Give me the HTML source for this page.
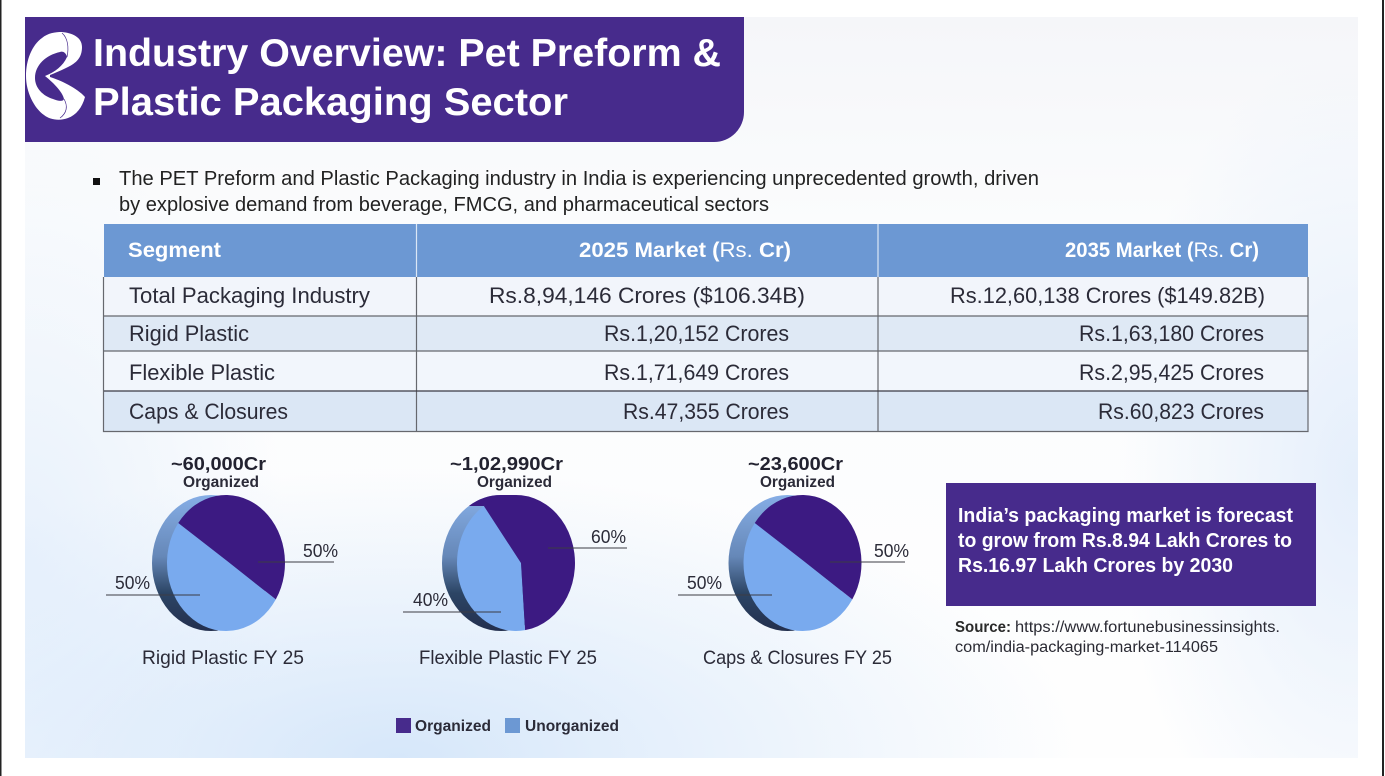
<!DOCTYPE html>
<html lang="en">
<head>
<meta charset="utf-8">
<title>Industry Overview: Pet Preform &amp; Plastic Packaging Sector</title>
<style>
html,body{margin:0;padding:0;background:#fff;width:1385px;height:776px;overflow:hidden}
#panel{position:absolute;left:25px;top:17px;width:1333px;height:741px;
background:
radial-gradient(ellipse 240px 430px at 100% 62%,rgba(228,238,251,.95),rgba(228,238,251,0) 100%),
radial-gradient(ellipse 680px 290px at 28% 100%,rgba(214,231,250,1),rgba(214,231,250,0) 100%),
radial-gradient(ellipse 260px 420px at 0% 72%,rgba(232,241,252,1),rgba(232,241,252,0) 100%),
linear-gradient(180deg,#f5f6f9 0%,#fbfcfd 28%,#fefefe 100%)}
svg{position:absolute;left:0;top:0;font-family:"Liberation Sans",sans-serif}
.b{font-weight:700}
</style>
</head>
<body>
<div id="panel"></div>
<svg id="slide" width="1385" height="776" viewBox="0 0 1385 776" xmlns="http://www.w3.org/2000/svg">
  <defs>
    <linearGradient id="sideGrad" x1="0" y1="0" x2="0" y2="1">
      <stop offset="0" stop-color="#86aee6"/>
      <stop offset="0.45" stop-color="#6688b8"/>
      <stop offset="0.72" stop-color="#2c4565"/>
      <stop offset="1" stop-color="#232f4e"/>
    </linearGradient>
  </defs>
  <rect x="0" y="0" width="1.5" height="776" fill="#222"/>
  <rect x="1382" y="0" width="2" height="776" fill="#222"/>

  <path d="M25,17H744V112A30,30 0 0 1 714,142H25Z" fill="#472b8c"/>
  <g>
    <path fill="#fff" fill-rule="evenodd" d="M62,32C72,33 82,37 82,47C82,58 76,63 68,67C62,70 55,73 50,75L50,77C60,80 77,88 85,97C82,108 76,115 68,118C60,121 50,120 44,115C34,108 26,92 26,76C26,60 32,45 42,38C48,33 55,32 62,32ZM45,76C55,72 63,66 67,57C66,52 62,51 60,52C46,55 35,65 35,78C35,88 43,96 53,99C58,101 63,102 64,99C63,93 55,84 45,76Z"/>
    <path fill="none" stroke="#472b8c" stroke-width="0.7" d="M62,33C68,38 69,48 67,57M64,99C68,106 67,113 60,118"/>
  </g>
  <text x="93" y="66" font-size="39" font-weight="700" fill="#fff" textLength="628" lengthAdjust="spacingAndGlyphs">Industry Overview: Pet Preform &amp;</text>
  <text x="93" y="115" font-size="39" font-weight="700" fill="#fff" textLength="475" lengthAdjust="spacingAndGlyphs">Plastic Packaging Sector</text>

  <rect x="93" y="178" width="7" height="7" fill="#111"/>
  <text x="119" y="185" font-size="20" fill="#222" textLength="920" lengthAdjust="spacingAndGlyphs">The PET Preform and Plastic Packaging industry in India is experiencing unprecedented growth, driven</text>
  <text x="119" y="211" font-size="20" fill="#222" textLength="650" lengthAdjust="spacingAndGlyphs">by explosive demand from beverage, FMCG, and pharmaceutical sectors</text>

  <g>
    <rect x="104" y="224" width="1204" height="53" fill="#6c98d3"/>
    <rect x="104" y="277" width="1204" height="39" fill="#f2f5fb"/>
    <rect x="104" y="316" width="1204" height="35" fill="#dfe9f5"/>
    <rect x="104" y="351" width="1204" height="40" fill="#f2f6fc"/>
    <rect x="104" y="391" width="1204" height="40" fill="#dbe7f5"/>
    <g stroke="#66686e" stroke-width="1.2" fill="none">
      <path d="M103.5,277V431.5H1308V277"/>
      <path d="M416.5,277V431M878,277V431"/>
      <path d="M104,316H1308M104,351H1308"/>
      <path d="M104,391H1308" stroke="#3a3a44"/>
    </g>
    <path d="M416.5,224V277M878,224V277" stroke="#dbe7f6" stroke-width="1.2"/>
    <text x="128" y="257" font-size="21" class="b" fill="#fff" textLength="93" lengthAdjust="spacingAndGlyphs">Segment</text>
    <text x="579" y="257" font-size="21" class="b" fill="#fff" textLength="212" lengthAdjust="spacingAndGlyphs">2025 Market (<tspan font-weight="400">Rs.</tspan> Cr)</text>
    <text x="1065" y="257" font-size="21" class="b" fill="#fff" textLength="194" lengthAdjust="spacingAndGlyphs">2035 Market (<tspan font-weight="400">Rs.</tspan> Cr)</text>

    <g font-size="22" fill="#2b2b38">
      <text x="129" y="303" textLength="241" lengthAdjust="spacingAndGlyphs">Total Packaging Industry</text>
      <text x="489" y="303" textLength="316" lengthAdjust="spacingAndGlyphs">Rs.8,94,146 Crores ($106.34B)</text>
      <text x="950" y="303" textLength="315" lengthAdjust="spacingAndGlyphs">Rs.12,60,138 Crores ($149.82B)</text>
      <text x="129" y="341" textLength="120" lengthAdjust="spacingAndGlyphs">Rigid Plastic</text>
      <text x="604" y="341" textLength="185" lengthAdjust="spacingAndGlyphs">Rs.1,20,152 Crores</text>
      <text x="1079" y="341" textLength="185" lengthAdjust="spacingAndGlyphs">Rs.1,63,180 Crores</text>
      <text x="129" y="380" textLength="146" lengthAdjust="spacingAndGlyphs">Flexible Plastic</text>
      <text x="604" y="380" textLength="185" lengthAdjust="spacingAndGlyphs">Rs.1,71,649 Crores</text>
      <text x="1079" y="380" textLength="185" lengthAdjust="spacingAndGlyphs">Rs.2,95,425 Crores</text>
      <text x="129" y="419" textLength="159" lengthAdjust="spacingAndGlyphs">Caps &amp; Closures</text>
      <text x="623" y="419" textLength="166" lengthAdjust="spacingAndGlyphs">Rs.47,355 Crores</text>
      <text x="1098" y="419" textLength="166" lengthAdjust="spacingAndGlyphs">Rs.60,823 Crores</text>
    </g>
  </g>

  <g id="pies"></g>

  <g>
    <rect x="396" y="718" width="15" height="15" fill="#472b8c"/>
    <text x="415" y="731" font-size="16" class="b" fill="#2b2b38" textLength="76" lengthAdjust="spacingAndGlyphs">Organized</text>
    <rect x="505" y="718" width="15" height="15" fill="#6c98d3"/>
    <text x="525" y="731" font-size="16" class="b" fill="#2b2b38" textLength="94" lengthAdjust="spacingAndGlyphs">Unorganized</text>
  </g>

  <rect x="946" y="483" width="370" height="123" fill="#472b8c"/>
  <g font-size="20" class="b" fill="#fff">
    <text x="958" y="522" textLength="335" lengthAdjust="spacingAndGlyphs">India’s packaging market is forecast</text>
    <text x="958" y="547" textLength="334" lengthAdjust="spacingAndGlyphs">to grow from Rs.8.94 Lakh Crores to</text>
    <text x="958" y="572" textLength="275" lengthAdjust="spacingAndGlyphs">Rs.16.97 Lakh Crores by 2030</text>
  </g>
  <text x="955" y="632" font-size="15.5" class="b" fill="#2a2a2a" textLength="56" lengthAdjust="spacingAndGlyphs">Source:</text>
  <text x="1015" y="632" font-size="15.5" fill="#2a2a33" textLength="265" lengthAdjust="spacingAndGlyphs">https://www.fortunebusinessinsights.</text>
  <text x="955" y="652" font-size="15.5" fill="#2a2a33" textLength="263" lengthAdjust="spacingAndGlyphs">com/india-packaging-market-114065</text>
</svg>
<script>
const pieNames = ['Rigid Plastic FY 25', 'Flexible Plastic FY 25', 'Caps & Closures FY 25'];
const organizedTotals = ['~60,000Cr', '~1,02,990Cr', '~23,600Cr'];
const organizedShare = [50, 60, 50];
const unorganizedShare = [50, 40, 50];

const NS = 'http://www.w3.org/2000/svg';
const root = document.getElementById('pies');
const RX = 59, RY = 68, CY = 563, DEPTH = 15;
const pieLayout = [
  {cx: 226, pivot: 1.2, pivotY: -2, start: -54, warp: 0.98, capL: 142, capW: 162, totL: 171, totW: 95, orgL: 183, orgW: 76,
   right: {x1: 258, x2: 334, y: 562, tx: 303}, left: {x1: 106, x2: 200, y: 595, tx: 115}},
  {cx: 516, pivot: 5, pivotY: 0, start: -33, warp: 0.945, capL: 419, capW: 178, totL: 450, totW: 113, orgL: 477, orgW: 75,
   right: {x1: 548, x2: 627, y: 548, tx: 591}, left: {x1: 403, x2: 501, y: 612, tx: 413}},
  {cx: 802.5, pivot: 1.2, pivotY: -2, start: -54, warp: 0.98, capL: 703, capW: 189, totL: 748, totW: 95, orgL: 760, orgW: 75,
   right: {x1: 830, x2: 905, y: 562, tx: 874}, left: {x1: 678, x2: 772, y: 595, tx: 687}}
];

function pointAt(cx, deg) {
  const r = deg * Math.PI / 180;
  return [cx + RX * Math.sin(r), CY - RY * Math.cos(r)];
}
function sweepOf(share, otherShare, warp) {
  return 360 * share / (share + otherShare) * warp;
}
function wedgePath(cx, pivot, pivotY, from, sweep) {
  const a = pointAt(cx, from), b = pointAt(cx, from + sweep);
  const large = sweep > 180 ? 1 : 0;
  return 'M' + (cx + pivot) + ',' + (CY + pivotY) + 'L' + a[0] + ',' + a[1] + 'A' + RX + ',' + RY + ' 0 ' + large + ' 1 ' + b[0] + ',' + b[1] + 'Z';
}
function addText(parent, x, y, size, weight, fill, len, content) {
  const t = document.createElementNS(NS, 'text');
  t.setAttribute('x', x);
  t.setAttribute('y', y);
  t.setAttribute('font-size', size);
  t.setAttribute('font-weight', weight);
  t.setAttribute('fill', fill);
  t.setAttribute('textLength', len);
  t.setAttribute('lengthAdjust', 'spacingAndGlyphs');
  t.textContent = content;
  parent.appendChild(t);
  return t;
}
function addLine(parent, x1, x2, y) {
  const l = document.createElementNS(NS, 'line');
  l.setAttribute('x1', x1);
  l.setAttribute('x2', x2);
  l.setAttribute('y1', y);
  l.setAttribute('y2', y);
  l.setAttribute('stroke', '#3c3c44');
  l.setAttribute('stroke-width', '1.1');
  parent.appendChild(l);
  return l;
}

pieNames.forEach(function (name, i) {
  const L = pieLayout[i];
  const g = document.createElementNS(NS, 'g');
  
  
  root.appendChild(g);

  const side = document.createElementNS(NS, 'ellipse');
  side.setAttribute('cx', L.cx - DEPTH);
  side.setAttribute('cy', CY);
  side.setAttribute('rx', RX);
  side.setAttribute('ry', RY);
  side.setAttribute('fill', 'url(#sideGrad)');
  
  
  g.appendChild(side);

  const sweepOrg = sweepOf(organizedShare[i], unorganizedShare[i], L.warp);
  const sweepUn = 360 - sweepOrg;

  if (organizedShare[i] > 50) {
    const a = pointAt(L.cx, L.start);
    const strip = document.createElementNS(NS, 'path');
    strip.setAttribute('d', 'M' + (a[0] - DEPTH) + ',' + a[1] + 'A' + RX + ',' + RY + ' 0 0 1 ' + (L.cx - DEPTH) + ',' + (CY - RY) + 'L' + L.cx + ',' + (CY - RY) + 'L' + a[0] + ',' + a[1] + 'Z');
    strip.setAttribute('fill', '#3c1a82');
    
    
    g.appendChild(strip);
  }

  const un = document.createElementNS(NS, 'path');
  un.setAttribute('d', wedgePath(L.cx, L.pivot, L.pivotY, L.start + sweepOrg, sweepUn));
  un.setAttribute('fill', '#79aaee');
  
  
  g.appendChild(un);

  const org = document.createElementNS(NS, 'path');
  org.setAttribute('d', wedgePath(L.cx, L.pivot, L.pivotY, L.start, sweepOrg));
  org.setAttribute('fill', '#3c1a82');
  
  
  g.appendChild(org);

  const lr = addLine(g, L.right.x1, L.right.x2, L.right.y);
  
  
  const ll = addLine(g, L.left.x1, L.left.x2, L.left.y);
  
  

  const vr = addText(g, L.right.tx, L.right.y - 5, 18, 400, '#2b2b38', 35, organizedShare[i] + '%');
  
  
  const vl = addText(g, L.left.tx, L.left.y - 6, 18, 400, '#2b2b38', 35, unorganizedShare[i] + '%');
  
  

  const tot = addText(g, L.totL, 470, 18, 700, '#222230', L.totW, organizedTotals[i]);
  
  
  const og = addText(g, L.orgL, 487, 15.5, 700, '#2b2b38', L.orgW, 'Organized');
  
  
  const cap = addText(g, L.capL, 664, 19.5, 400, '#2b2b38', L.capW, name);
  
  
});
</script>
</body>
</html>
